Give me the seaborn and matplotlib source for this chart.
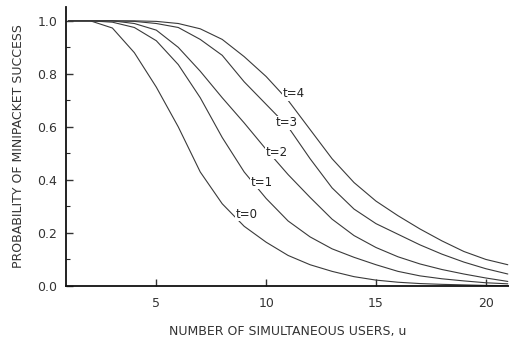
import numpy as np
import pandas as pd
import matplotlib
matplotlib.use("Agg")
import matplotlib.pyplot as plt
import seaborn as sns
from matplotlib.ticker import MultipleLocator

# ---- data ----
users = list(range(1, 22))
p_t0 = [1.0, 1.0, 0.973, 0.88, 0.75, 0.60, 0.43, 0.31, 0.225, 0.165, 0.115,
        0.08, 0.055, 0.035, 0.022, 0.014, 0.009, 0.006, 0.004, 0.002, 0.001]
p_t1 = [1.0, 1.0, 0.995, 0.975, 0.925, 0.835, 0.71, 0.56, 0.43, 0.33, 0.245,
        0.185, 0.14, 0.108, 0.08, 0.055, 0.038, 0.027, 0.019, 0.012, 0.008]
p_t2 = [1.0, 1.0, 1.0, 0.99, 0.965, 0.90, 0.81, 0.71, 0.615, 0.515, 0.42,
        0.334, 0.252, 0.19, 0.145, 0.11, 0.083, 0.062, 0.045, 0.03, 0.017]
p_t3 = [1.0, 1.0, 1.0, 0.998, 0.99, 0.975, 0.93, 0.87, 0.77, 0.685, 0.60,
        0.48, 0.37, 0.29, 0.235, 0.195, 0.155, 0.12, 0.09, 0.065, 0.045]
p_t4 = [1.0, 1.0, 1.0, 1.0, 0.998, 0.99, 0.97, 0.93, 0.865, 0.79, 0.70,
        0.59, 0.48, 0.39, 0.32, 0.265, 0.215, 0.17, 0.13, 0.10, 0.08]
series = {"t=0": p_t0, "t=1": p_t1, "t=2": p_t2, "t=3": p_t3, "t=4": p_t4}
label_pos = {"t=0": (9.1, 0.27), "t=1": (9.8, 0.392), "t=2": (10.5, 0.505),
             "t=3": (10.95, 0.615), "t=4": (11.25, 0.725)}

x_ticks = [5, 10, 15, 20]
y_ticks = [0.0, 0.2, 0.4, 0.6, 0.8, 1.0]
x_label = "NUMBER OF SIMULTANEOUS USERS, u"
y_label = "PROBABILITY OF MINIPACKET SUCCESS"

rows = []
for name, vals in series.items():
    for u, p in zip(users, vals):
        rows.append({"u": u, "p": p, "t": name})
df = pd.DataFrame(rows)

sns.set_style("ticks")
plt.rcParams["font.family"] = ["DejaVu Sans"]

fig = plt.figure(figsize=(5.1, 3.4), dpi=100)
ax = fig.add_axes([0.129, 0.159, 0.871, 0.821])

line_col = "#3a3a3a"
sns.lineplot(data=df, x="u", y="p", hue="t", palette=[line_col] * 5,
             linewidth=0.8, legend=False, ax=ax)

for name, (lx, ly) in label_pos.items():
    ax.text(lx, ly, name, fontsize=8.5, color="#222222", ha="center", va="center",
            bbox=dict(facecolor="white", edgecolor="none", pad=0.4))

ax.set_xlim(0.88, 21.1)
ax.set_ylim(0.0, 1.053)
ax.set_xticks(x_ticks)
ax.set_yticks(y_ticks)
ax.set_yticklabels([f"{v:.1f}" for v in y_ticks])
ax.yaxis.set_minor_locator(MultipleLocator(0.1))
ax.tick_params(axis="both", which="major", direction="in", length=5, width=1,
               labelsize=9, colors="#333333", pad=6)
ax.tick_params(axis="y", which="minor", direction="in", length=3, width=0.8)
ax.tick_params(axis="x", pad=8)

sns.despine(ax=ax)
for s in ("left", "bottom"):
    ax.spines[s].set_linewidth(1.3)
    ax.spines[s].set_color("#111111")

ax.set_xlabel(x_label, fontsize=9, color="#333333", labelpad=11)
ax.set_ylabel(y_label, fontsize=9, color="#333333", labelpad=9)

fig.savefig("out.png", dpi=100)
